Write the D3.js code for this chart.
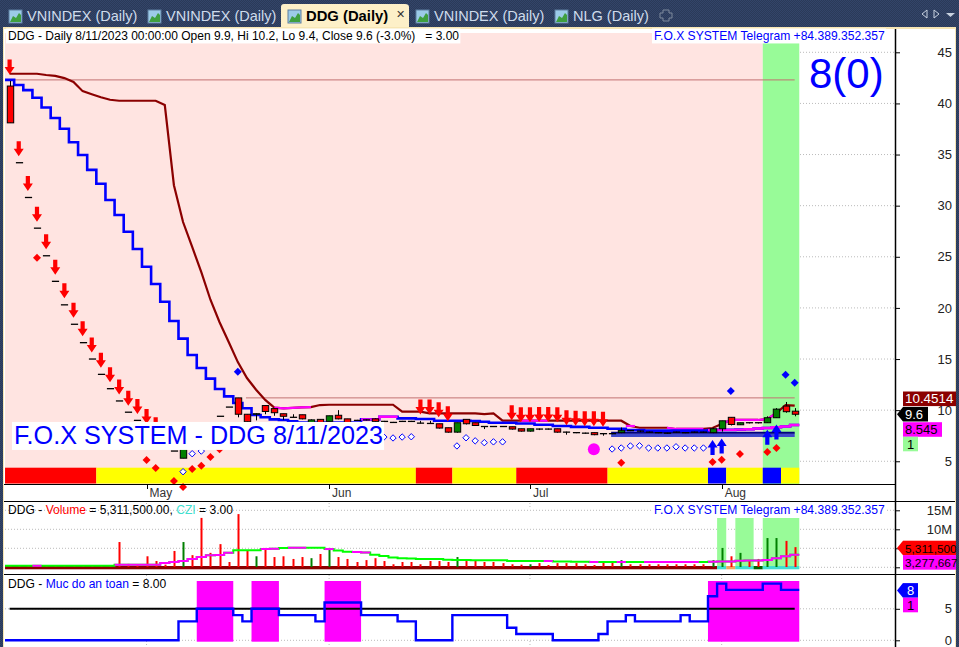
<!DOCTYPE html>
<html><head><meta charset="utf-8">
<style>html,body{margin:0;padding:0;background:#2d3d5c;overflow:hidden}svg{display:block}text{font-family:"Liberation Sans",Arial,sans-serif}</style>
<script src="https://cdnjs.cloudflare.com/ajax/libs/d3/7.8.5/d3.min.js"></script>
</head><body><svg id="c" width="959" height="647"></svg>
<script>
const opens=[41.7,34.2,30.8,27.8,25.1,22.6,20.3,18.4,16.6,15.0,13.5,12.1,10.9,9.8,9.0,8.0,7.2,6.6,6.0,5.3,6.6,7.2,8.4,9.4,10.3,11.2,9.6,9.6,10.45,10.15,9.65,9.3,9.55,8.8,9.1,8.9,9.5,9.15,9.0,9.05,9.15,8.9,8.8,8.9,8.9,8.73,8.7,8.67,8.28,7.85,9.1,8.77,8.4,8.4,8.4,8.38,8.18,7.95,8.15,8.15,8.18,7.85,7.8,7.75,7.8,7.7,7.7,7.8,8.0,7.95,7.85,7.8,7.75,7.85,7.8,7.85,7.85,7.8,8.18,9.3,8.57,8.77,8.77,8.77,9.26,10.4,9.9];
const closes=[38.1,34.2,30.8,27.8,25.1,22.6,20.3,18.4,16.6,15.0,13.5,12.1,10.9,9.8,9.0,8.0,7.2,6.6,6.0,6.25,6.6,7.2,8.4,9.4,10.3,9.6,8.87,9.65,9.87,9.75,9.4,9.3,9.15,9.05,8.8,9.45,9.15,8.8,9.0,9.05,8.9,8.9,8.8,8.9,8.9,8.73,8.7,8.25,7.85,8.77,8.67,8.5,8.4,8.4,8.4,8.15,7.95,8.18,8.15,8.15,7.85,7.85,7.8,7.75,7.6,7.7,7.7,8.0,8.0,7.95,7.85,7.8,7.75,7.85,7.8,7.85,7.85,8.18,8.96,8.6,8.77,8.77,8.77,9.26,10.1,9.85,9.6];
const highs=[42.2,34.2,30.8,27.8,25.1,22.6,20.3,18.4,16.6,15.0,13.5,12.1,10.9,9.8,9.0,8.0,7.2,6.6,6.0,6.25,6.6,7.2,8.4,9.4,10.3,11.2,9.6,9.7,10.45,10.15,9.65,9.6,9.55,9.1,9.1,9.45,10.0,9.15,9.05,9.1,9.2,8.95,8.85,8.95,8.95,8.95,8.95,8.67,8.28,8.77,9.1,8.77,8.45,8.45,8.45,8.38,8.18,8.18,8.2,8.2,8.18,7.9,7.85,7.8,7.8,7.75,7.75,8.3,8.05,8.0,7.9,7.85,7.8,7.9,7.85,7.9,7.9,8.3,8.96,9.3,8.77,8.8,8.8,9.4,10.2,10.8,10.2];
const lows=[38.1,34.2,30.8,27.8,25.1,22.6,20.3,18.4,16.6,15.0,13.5,12.1,10.9,9.8,9.0,8.0,7.2,6.6,6.0,5.3,6.6,7.2,8.4,9.4,10.3,9.3,8.85,9.0,9.6,9.45,9.05,9.3,9.1,8.8,8.75,8.9,9.1,8.75,8.95,9.0,8.85,8.85,8.75,8.85,8.85,8.7,8.65,8.2,7.8,7.8,8.6,8.45,8.15,8.35,8.35,8.1,7.9,7.9,8.05,8.1,7.8,7.6,7.75,7.7,7.55,7.5,7.65,7.75,7.95,7.85,7.8,7.75,7.7,7.8,7.75,7.8,7.8,7.75,7.9,8.5,8.55,8.7,8.7,8.75,9.25,9.75,9.4];
const blueLine=[42.3,41.8,41.3,40.56,39.6,38.57,37.53,36.2,34.95,33.5,32.15,30.55,29.08,27.45,25.76,24.03,22.34,20.6,18.72,17,15.4,14.12,13.08,12.07,11.35,10.7,10.18,9.52,9.3,9.1,9.04,8.9,8.8,8.8,8.8,8.8,8.8,8.8,8.8,9.1,9.1,9.35,9.35,9.2,9.2,9.13,9.13,8.97,8.97,8.97,8.97,8.94,8.87,8.77,8.77,8.77,8.7,8.7,8.57,8.57,8.45,8.45,8.36,8.36,8.28,8.28,8.18,8.18,8.05,8.05,8.0,8.0,8.0,8.0,8.0,8.0,8.0,8.05,8.07,8.07,8.1,8.13,8.2,8.25,8.33,8.4,8.545];
const upperLine=[42.9,42.9,42.9,42.9,42.78,42.7,42.48,42.1,41.2,40.9,40.6,40.36,40.26,40.26,40.26,40.26,40.26,39.84,32,28.4,25.96,23.5,20.8,18.6,16.66,14.7,13.14,12,11,10.24,10.18,10.23,10.28,10.3,10.5,10.53,10.53,10.53,10.53,10.53,10.53,10.53,10.53,9.85,9.85,9.85,9.69,9.69,9.69,9.69,9.69,9.69,9.62,9.69,8.97,8.97,8.97,8.97,8.97,8.97,8.97,8.97,8.97,8.97,8.97,8.97,8.97,8.97,8.45,8.28,8.28,8.28,8.28,8.16,8.16,8.16,8.16,8.25,8.65,9.04,9.04,9.04,9.04,9.13,9.72,10.5,10.45];
const upperMagentaRuns=[[29,33],[56,59],[68,68],[72,76],[78,84]];
const blueMagentaRuns=[[39,42],[77,86]];
const refLevels=[{value:42.3,from:0},{value:11.2,from:26}];
const supportBar={value:7.6,from:66,to:86};
const downArrows=[0,1,2,3,4,5,6,7,8,9,10,11,12,13,14,15,16,45,46,47,48,55,56,57,58,59,60,61,62,63,64,65];
const upArrows=[77,78,83,84];
const openDiamonds=[[19,3.98],[20,5.74],[21,6.0],[41,7.37],[42,7.28],[43,7.37],[44,7.4],[49,6.5],[50,7.3],[51,7.0],[52,6.82],[53,6.9],[54,6.9],[66,6.2],[67,6.3],[68,6.5],[69,6.52],[70,6.3],[71,6.3],[72,6.3],[73,6.42],[74,6.3],[75,6.3],[76,6.3]];
const redDiamonds=[[3,24.9],[15,5.12],[16,4.34],[18,3.07],[19,2.48],[20,4.24],[21,4.57],[22,5.42],[23,6.17],[67,4.86],[77,4.93],[78,5.15],[80,5.71],[83,5.9],[84,6.3]];
const blueDiamonds=[[25,13.76],[79,11.87],[85,13.47],[86,12.68]];
const magentaDots=[[64,6.17]];
const stripRuns=[[0,9,"red"],[10,44,"yellow"],[45,48,"red"],[49,55,"yellow"],[56,65,"red"],[66,76,"yellow"],[77,78,"blue"],[79,82,"yellow"],[83,84,"blue"],[85,86,"yellow"]];
const bgRuns=[[0,82,"#ffe4e1"],[83,86,"#98fb98"]];
const monthLabels=[[15,"May"],[35,"Jun"],[57,"Jul"],[78,"Aug"]];
const priceTicks=[5,10,15,20,25,30,35,40,45];
const volumes=[0.25,0.25,0.25,0.3,0.25,0.25,0.25,0.25,0.25,0.25,0.25,0.25,6.65,0.9,0.6,2.9,1.65,0.7,4.3,6.65,3.2,13,3.8,6.1,1.4,14,4.5,2.9,5.1,2.7,2.9,2.2,2.7,2.4,3.5,5.1,2.7,2.2,1.4,1.9,2.4,1.65,0.8,1.4,1.4,0.8,1.65,1.65,1.4,2.7,1.65,1.9,1.4,1.4,1.1,0.8,0.7,0.8,1.1,0.6,1.1,1.1,1.1,0.8,0.6,1.65,1.65,1.9,0.8,0.8,0.8,0.8,0.8,0.8,0.8,0.8,0.8,1.9,5.1,2.9,3.8,1.9,2.2,7.7,7.7,6.95,5.31];
const volumeAverage=[0.4,0.4,0.4,0.4,0.4,0.4,0.4,0.4,0.4,0.4,0.4,0.4,0.7,0.7,0.7,0.7,0.7,1.1,1.4,1.65,2.2,2.7,3.2,3.25,3.8,4.5,4.5,4.5,4.8,4.85,5.1,5.15,5.15,5.15,5.15,4.8,4.4,4.1,4.0,3.9,3.3,3.0,2.6,2.4,2.3,2.2,2.2,2.2,2.0,1.9,1.9,1.85,1.85,1.85,1.85,1.65,1.65,1.65,1.65,1.65,1.5,1.5,1.45,1.45,1.4,1.4,1.4,1.4,1.4,1.4,1.4,1.4,1.4,1.4,1.4,1.4,1.4,1.45,1.5,1.5,1.75,1.8,1.8,1.95,2.4,2.9,3.278];
const volMagentaRuns=[[3,3],[12,24],[28,29],[31,32],[35,35],[38,39],[59,59],[64,64],[67,67],[70,75],[77,86]];
const volGreenBg=[[78,78],[80,81],[83,86]];
const volStripRuns=[[0,77,"#8b0000"],[78,78,"#40e0d0"],[79,79,"#f4a460"],[80,81,"#40e0d0"],[82,82,"#006400"],[83,86,"#40e0d0"]];
const volTicks=[0,5,10,15];
const safety=[0,0,0,0,0,0,0,0,0,0,0,0,0,0,0,0,0,0,0,3,3,5,5,5,5,4,3,5,5,5,4,4,4,4,3,6,6,6,6,4,4,4,4,3,3,0,0,0,0,4,4,4,4,4,4,2,1,1,1,1,0,0,0,0,0,1,3,3,4,3,3,3,3,3,4,3,3,7,9,8,8,8,8,9,9,8,8];
const safetyTicks=[0,5];
const safetyThreshold=5;
const tabs=[[9,"VNINDEX (Daily)",false],[148,"VNINDEX (Daily)",false],[288,"DDG (Daily)",true],[416,"VNINDEX (Daily)",false],[555,"NLG (Daily)",false]];
const mainTitle="DDG - Daily 8/11/2023 00:00:00 Open 9.9, Hi 10.2, Lo 9.4, Close 9.6 (-3.0%)\u00a0\u00a0\u00a0= 3.00";
const telegram="F.O.X SYSTEM Telegram +84.389.352.357";
const banner="F.O.X SYSTEM - DDG 8/11/2023";
const signalText="8(0)";

const svg=d3.select("#c");
const N=opens.length;
const x=d3.scaleLinear().domain([0,86]).range([9.6,794.7]);
const hw=(x(1)-x(0))/2;
const y=d3.scaleLinear().domain([0,45]).range([512.4,52.3]);
const yV=d3.scaleLinear().domain([0,15]).range([567.3,510.3]);
const yS=d3.scaleLinear().domain([0,8]).range([640.3,589.9]);
const AX=895;

// chrome
const defs=svg.append("defs");
const pat=defs.append("pattern").attr("id","dith").attr("width",2).attr("height",2).attr("patternUnits","userSpaceOnUse");
pat.append("rect").attr("width",2).attr("height",2).attr("fill","#2b3a58");
pat.append("rect").attr("width",1).attr("height",1).attr("fill","#33456a");
pat.append("rect").attr("x",1).attr("y",1).attr("width",1).attr("height",1).attr("fill","#33456a");
svg.append("rect").attr("width",959).attr("height",647).attr("fill","url(#dith)");
svg.append("rect").attr("x",3).attr("y",27).attr("width",953).attr("height",620).attr("fill","#f7e6b4");
svg.append("rect").attr("x",4).attr("y",29).attr("width",951).attr("height",618).attr("fill","#fff");

tabs.forEach(([tx,label,active])=>{
  if(active) svg.append("path").attr("d",`M${tx-7},27V7Q${tx-7},4 ${tx-4},4H${tx+117}Q${tx+121},4 ${tx+121},7V27Z`).attr("fill","#fdf0c8");
  svg.append("rect").attr("x",tx).attr("y",10).attr("width",13).attr("height",13).attr("fill","#9ccbe8").attr("stroke","#5f7f9f");
  svg.append("path").attr("d",`M${tx+1},22L${tx+4},16L${tx+7},18L${tx+10},13L${tx+12},15V22Z`).attr("fill","#3f9f3f");
  svg.append("text").attr("x",tx+18).attr("y",21).attr("font-size",active?14.8:14.5).attr("font-weight",active?"bold":"normal").attr("fill",active?"#000":"#cfdcec").text(label);
});
svg.append("text").attr("x",400).attr("y",18).attr("font-size",11).attr("text-anchor","middle").attr("fill","#333").text("✕");
svg.append("path").attr("d","M663,10h6v3h3v5h-3v3h-6v-3h-3v-5h3z").attr("fill","none").attr("stroke","#7f8a9c").attr("stroke-width",1);
svg.append("path").attr("d","M927,10v8l-5,-4z").attr("fill","none").attr("stroke","#c8d2e0");
svg.append("path").attr("d","M934,10v8l5,-4z").attr("fill","none").attr("stroke","#c8d2e0");
svg.append("path").attr("d","M946,13h9l-4.5,4z").attr("fill","#c8d2e0");

// grid
const gridG=svg.append("g").attr("stroke","#bbb").attr("stroke-dasharray","1,2");
priceTicks.forEach(t=>gridG.append("line").attr("x1",5).attr("x2",AX).attr("y1",y(t)).attr("y2",y(t)));
volTicks.forEach(t=>gridG.append("line").attr("x1",5).attr("x2",AX).attr("y1",yV(t)).attr("y2",yV(t)));
safetyTicks.forEach(t=>gridG.append("line").attr("x1",5).attr("x2",AX).attr("y1",yS(t)).attr("y2",yS(t)));
monthLabels.forEach(([i])=>{[[503,509],[575,581],[641,646]].forEach(([a,b])=>gridG.append("line").attr("x1",x(i)).attr("x2",x(i)).attr("y1",a).attr("y2",b));});

const bandX=i=>x(i)-hw;
function band(g,runs,top,bot){g.selectAll(null).data(runs).enter().append("rect").attr("x",d=>bandX(d[0])).attr("width",d=>bandX(d[1]+1)-bandX(d[0])).attr("y",top).attr("height",bot-top).attr("fill",d=>d[2]);}

const m=svg.append("g");
band(m,bgRuns,33,484);
band(m,stripRuns,467.7,483.5);

const stepD=(vals,sc,a,b)=>{let p=[];for(let i=a;i<=b;i++){p.push([x(i)-hw,sc(vals[i])],[x(i)+hw,sc(vals[i])]);}return d3.line()(p);};
const lineD=(vals,sc,a,b)=>d3.line().x(d=>x(d)).y(d=>sc(vals[d]))(d3.range(a,b+1));

refLevels.forEach(r=>m.append("line").attr("x1",x(r.from)-1).attr("x2",x(86)).attr("y1",y(r.value)).attr("y2",y(r.value)).attr("stroke","#c27272").attr("stroke-width",1));

m.append("line").attr("x1",x(supportBar.from)-1).attr("x2",x(supportBar.to)).attr("y1",y(supportBar.value)+.5).attr("y2",y(supportBar.value)+.5).attr("stroke","#3f48cc").attr("stroke-width",3.5);
m.append("line").attr("x1",x(supportBar.from)-1).attr("x2",x(supportBar.to)).attr("y1",y(supportBar.value)-2).attr("y2",y(supportBar.value)-2).attr("stroke","#000080").attr("stroke-width",2);

const S=(d,c,w)=>m.append("path").attr("d",d).attr("fill","none").attr("stroke",c).attr("stroke-width",w).attr("stroke-linejoin","miter");
S(lineD(upperLine,y,0,86),"#8b0000",2.2);
upperMagentaRuns.forEach(([a,b])=>S(a===b?stepD(upperLine,y,a,b):lineD(upperLine,y,a,b),"#ff00ff",2.2));
S(stepD(blueLine,y,0,86),"#0000ff",2.6);
blueMagentaRuns.forEach(([a,b])=>S(stepD(blueLine,y,a,b),"#ff00ff",2.4));

const cw=6.4;
const candles=m.append("g");
d3.range(N).forEach(i=>{
  const cx=Math.round(x(i))+.5,O=opens[i],C=closes[i],doji=Math.abs(O-C)<0.02;
  if(highs[i]!==lows[i]) candles.append("line").attr("x1",cx).attr("x2",cx).attr("y1",y(highs[i])).attr("y2",y(lows[i])).attr("stroke","#000").attr("stroke-width",1);
  if(doji) candles.append("line").attr("x1",cx-cw/2-.4).attr("x2",cx+cw/2+.4).attr("y1",y(C)).attr("y2",y(C)).attr("stroke","#000").attr("stroke-width",1.3);
  else candles.append("rect").attr("x",cx-cw/2).attr("width",cw).attr("y",y(Math.max(O,C))).attr("height",Math.abs(y(O)-y(C))).attr("fill",C>O?"#008000":"#ff0000").attr("stroke","#000").attr("stroke-width",1);
});

const arrowD=(cx,tip,dir)=>{const L=15,H=7.5,hwHead=5,s=2.1;return `M${cx},${tip}L${cx-hwHead},${tip-dir*H}L${cx-s},${tip-dir*H}L${cx-s},${tip-dir*L}L${cx+s},${tip-dir*L}L${cx+s},${tip-dir*H}L${cx+hwHead},${tip-dir*H}Z`;};
downArrows.forEach(i=>m.append("path").attr("d",arrowD(x(i),y(highs[i])-6.5,1)).attr("fill","#ff0000"));
upArrows.forEach(i=>m.append("path").attr("d",arrowD(x(i),y(lows[i])+6.8,-1)).attr("fill","#0000ff"));

const diaD=(cx,cy,r)=>`M${cx},${cy-r}L${cx+r},${cy}L${cx},${cy+r}L${cx-r},${cy}Z`;
openDiamonds.forEach(([i,v])=>m.append("path").attr("d",diaD(x(i),y(v),3.2)).attr("fill","#fff").attr("stroke","#0000ff").attr("stroke-width",1));
redDiamonds.forEach(([i,v])=>m.append("path").attr("d",diaD(x(i),y(v),4)).attr("fill","#ff0000"));
blueDiamonds.forEach(([i,v])=>m.append("path").attr("d",diaD(x(i),y(v),4)).attr("fill","#0000ff"));
magentaDots.forEach(([i,v])=>m.append("circle").attr("cx",x(i)).attr("cy",y(v)).attr("r",6).attr("fill","#ff00ff"));

function boxed(tx,ty,h,size,str,col){const t=svg.append("text").attr("x",tx).attr("y",ty).attr("font-size",size).attr("fill",col).text(str);const b=t.node().getBBox();svg.insert("rect",()=>t.node()).attr("x",b.x-2).attr("y",ty-h+(h*0.23)).attr("width",b.width+3).attr("height",h).attr("fill","#fff");return t;}
boxed(14,443.5,28,25.2,banner,"#0000ff");
boxed(8,40,15,12,mainTitle,"#000");
boxed(654,40,15,12.1,telegram,"#0000ff");
svg.append("text").attr("x",809).attr("y",88).attr("font-size",42).attr("fill","#0000ff").text(signalText);

const sep=(a,b,yy)=>svg.append("line").attr("x1",a).attr("x2",b).attr("y1",yy).attr("y2",yy).attr("stroke","#000").attr("stroke-width",1);
sep(4,AX,484.5);sep(4,955,501.5);sep(4,955,574.5);
monthLabels.forEach(([i,t])=>{svg.append("line").attr("x1",Math.round(x(i))+.5).attr("x2",Math.round(x(i))+.5).attr("y1",484).attr("y2",489).attr("stroke","#000");
 svg.append("text").attr("x",x(i)+3).attr("y",497).attr("font-size",12).attr("fill","#333").text(t);});

const v=svg.append("g");
volGreenBg.forEach(([a,b])=>v.append("rect").attr("x",bandX(a)).attr("width",bandX(b+1)-bandX(a)).attr("y",518).attr("height",51).attr("fill","#98fb98"));
band(v,volStripRuns,566,569.3);
d3.range(N).forEach(i=>{v.append("line").attr("x1",Math.round(x(i))+.5).attr("x2",Math.round(x(i))+.5).attr("y1",yV(volumes[i])).attr("y2",567).attr("stroke",closes[i]>opens[i]?"#008000":"#ff0000").attr("stroke-width",2);});
v.append("path").attr("d",stepD(volumeAverage,yV,0,86)).attr("fill","none").attr("stroke","#00ff00").attr("stroke-width",2);
volMagentaRuns.forEach(([a,b])=>v.append("path").attr("d",stepD(volumeAverage,yV,a,b)).attr("fill","none").attr("stroke","#ff00ff").attr("stroke-width",2));
const multi=(tx,ty,parts)=>{const t=svg.append("text").attr("x",tx).attr("y",ty).attr("font-size",12.1).style("white-space","pre");parts.forEach(([s,c])=>t.append("tspan").attr("fill",c).text(s));return t;};
multi(8,514,[["DDG - ","#000"],["Volume","#ff0000"],[" = 5,311,500.00, ","#000"],["CZI","#40e0d0"],[" = 3.00","#000"]]);
boxed(654,514,15,12.1,telegram,"#0000ff");

const s=svg.append("g");
const runs=[];let st=null;safety.forEach((d,i)=>{if(d>=safetyThreshold&&st===null)st=i;if((d<safetyThreshold||i===N-1)&&st!==null){runs.push([st,d<safetyThreshold?i-1:i]);st=null;}});
runs.forEach(([a,b])=>s.append("rect").attr("x",bandX(a)).attr("width",bandX(b+1)-bandX(a)).attr("y",581).attr("height",60.7).attr("fill","#ff00ff"));
s.append("line").attr("x1",x(0)).attr("x2",x(86)).attr("y1",yS(safetyThreshold)).attr("y2",yS(safetyThreshold)).attr("stroke","#000").attr("stroke-width",2);
s.append("path").attr("d",stepD(safety,yS,0,86)).attr("fill","none").attr("stroke","#0000ff").attr("stroke-width",2.4);
multi(8,588,[["DDG - ","#000"],["Muc do an toan","#0000ff"],[" = 8.00","#000"]]);

const axisFmt=g=>{g.select(".domain").remove();g.selectAll(".tick line").attr("stroke","#000");g.selectAll(".tick text").attr("x",57).attr("text-anchor","end").attr("font-size",13).attr("font-family","Liberation Sans").attr("fill","#222");};
svg.append("g").attr("transform",`translate(${AX},0)`).call(d3.axisRight(y).tickValues(priceTicks).tickSize(5)).call(axisFmt);
svg.append("g").attr("transform",`translate(${AX},0)`).call(d3.axisRight(yV).tickValues(volTicks.filter(t=>t>=10)).tickSize(5).tickFormat(d=>d+"M")).call(axisFmt);
svg.append("g").attr("transform",`translate(${AX},0)`).call(d3.axisRight(yV).tickValues(volTicks.filter(t=>t<10)).tickSize(5).tickFormat("")).call(axisFmt);
svg.append("g").attr("transform",`translate(${AX},0)`).call(d3.axisRight(yS).tickValues(safetyTicks).tickSize(5)).call(axisFmt);
svg.append("line").attr("x1",AX+.5).attr("x2",AX+.5).attr("y1",29).attr("y2",647).attr("stroke","#000").attr("stroke-width",1.5);

function tag(yc,str,bg,fg,w,arrow,size){const h=14.6,x0=903;
  if(arrow) svg.append("path").attr("d",`M${AX+2},${yc}L${x0},${yc-h/2}V${yc+h/2}Z`).attr("fill",bg);
  svg.append("rect").attr("x",x0).attr("y",yc-h/2).attr("width",w).attr("height",h).attr("fill",bg);
  svg.append("text").attr("x",x0+(w<20?w/2:2)).attr("y",yc+4.6).attr("text-anchor",w<20?"middle":"start").attr("font-size",size||13).attr("fill",fg).text(str);}
tag(398.8,"10.4514","#8b0000","#fff",53,false,13.4);
tag(414.2,"9.6","#000","#fff",25,true);
tag(429.5,"8.545","#ff00ff","#000",39,false);
tag(444,"1","#98fb98","#000",15,false);
tag(548,"5,311,500","#ff0000","#000",53,true,11.8);
tag(562.4,"3,277,667","#ff00ff","#000",53,false,11.8);
tag(590.4,"8","#0000ff","#fff",15,true);
tag(605,"1","#ff00ff","#000",15,false);
</script></body></html>
